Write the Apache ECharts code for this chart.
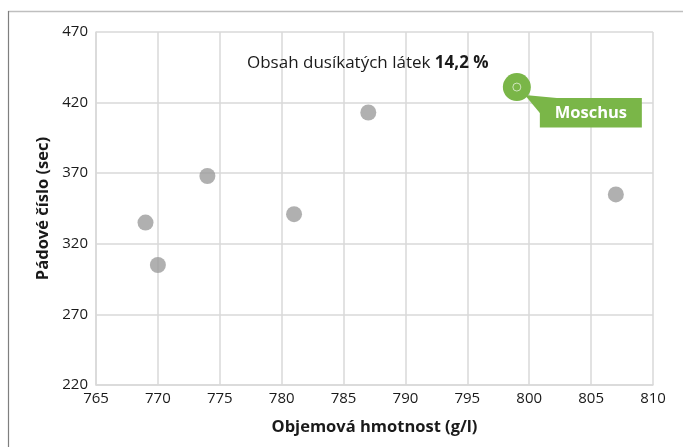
<!DOCTYPE html>
<html>
<head>
<meta charset="utf-8">
<script src="https://cdn.jsdelivr.net/npm/echarts@6/dist/echarts.min.js"></script>
<style>html,body{margin:0;padding:0;background:#fff}#c{width:683px;height:447px}</style>
</head>
<body>
<div id="c"></div>
<script>
// Data
const pointsX = [769, 770, 774, 781, 787, 807];
const pointsY = [335, 305, 368, 341, 413, 355];
const highlightX = [799];
const highlightY = [431];
const highlightName = ['Moschus'];
const xTicks = [765, 770, 775, 780, 785, 790, 795, 800, 805, 810];
const yTicks = [220, 270, 320, 370, 420, 470];
const titleText = 'Obsah dusíkatých látek ';
const titleValue = '14,2 %';
const xName = 'Objemová hmotnost (g/l)';
const yName = 'Pádové číslo (sec)';

const FONT = 'Open Sans';
const green = '#7ab648';

const chart = echarts.init(document.getElementById('c'), null, {renderer: 'canvas'});
chart.setOption({
  animation: false,
  textStyle: {fontFamily: FONT},
  title: {
    text: '{a|' + titleText + '}{b|' + titleValue + '}',
    left: 242, top: 50,
    textStyle: {fontWeight: 'normal', rich: {
      a: {fontFamily: FONT, fontSize: 17, fontWeight: 'normal', color: '#1a1a1a'},
      b: {fontFamily: FONT, fontSize: 17, fontWeight: 'bold', color: '#1a1a1a'}
    }}
  },
  graphic: [
    {type: 'line', shape: {x1: 8, y1: 11.5, x2: 683, y2: 11.5}, style: {stroke: '#bfbfbf', lineWidth: 1.5}},
    {type: 'line', shape: {x1: 8.5, y1: 11, x2: 8.5, y2: 447}, style: {stroke: '#7f7f7f', lineWidth: 1.2}}
  ],
  grid: {left: 96, right: 30, top: 32, bottom: 62},
  xAxis: {
    type: 'value', min: xTicks[0], max: xTicks[xTicks.length - 1], interval: 5,
    name: xName, nameLocation: 'middle', nameGap: 34,
    nameTextStyle: {fontFamily: FONT, fontSize: 16.5, fontWeight: 'bold', color: '#1a1a1a'},
    axisLine: {show: true, lineStyle: {color: '#d9d9d9', width: 1.5}},
    axisTick: {show: false},
    axisLabel: {fontFamily: FONT, fontSize: 15, color: '#1a1a1a', margin: 6},
    splitLine: {show: true, lineStyle: {color: '#d9d9d9', width: 1.5}}
  },
  yAxis: {
    type: 'value', min: yTicks[0], max: yTicks[yTicks.length - 1], interval: 50,
    name: yName, nameLocation: 'middle', nameGap: 43, nameRotate: 90,
    nameTextStyle: {fontFamily: FONT, fontSize: 16.5, fontWeight: 'bold', color: '#1a1a1a'},
    axisLine: {show: true, lineStyle: {color: '#d9d9d9', width: 1.5}},
    axisTick: {show: false},
    axisLabel: {fontFamily: FONT, fontSize: 15, color: '#1a1a1a', margin: 8},
    splitLine: {show: true, lineStyle: {color: '#d9d9d9', width: 1.5}}
  },
  series: [
    {
      type: 'scatter',
      data: pointsX.map((x, i) => [x, pointsY[i]]),
      symbol: 'circle', symbolSize: 16,
      itemStyle: {color: '#9c9c9c'},
      z: 2
    },
    {
      type: 'custom',
      data: highlightX.map((x, i) => [x, highlightY[i], highlightName[i]]),
      z: 5,
      renderItem: function (params, api) {
        const c = api.coord([api.value(0), api.value(1)]);
        const cx = c[0], cy = c[1];
        return {
          type: 'group',
          children: [
            {type: 'polygon', shape: {points: [[cx + 8, cy + 8], [cx + 40, cy + 11], [cx + 23, cy + 26]]}, style: {fill: green}},
            {type: 'rect', shape: {x: cx + 23, y: cy + 11, width: 102, height: 29.5}, style: {fill: green}},
            {type: 'circle', shape: {cx: cx, cy: cy, r: 14}, style: {fill: green}},
            {type: 'circle', shape: {cx: cx, cy: cy, r: 4}, style: {fill: 'none', stroke: '#ffffff', lineWidth: 0.8, opacity: 0.8}},
            {type: 'text', style: {x: cx + 74, y: cy + 26, text: api.value(2), fill: '#ffffff',
              font: 'bold 16.5px "Open Sans"', align: 'center', verticalAlign: 'middle'}}
          ]
        };
      }
    }
  ]
});
</script>
</body>
</html>
